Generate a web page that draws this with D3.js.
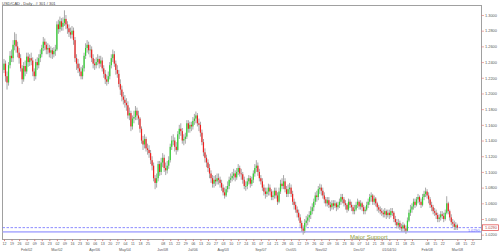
<!DOCTYPE html>
<html><head><meta charset="utf-8">
<script src="https://cdn.jsdelivr.net/npm/d3@7"></script>
<style>html,body{margin:0;padding:0;background:#fff;}svg{display:block;font-family:"Liberation Sans",Arial,sans-serif;}</style>
</head><body><svg id="c" width="500" height="252"></svg>
<script>
const title = "USD/CAD , Daily , # 301 / 301";
const firstOpen = 1.230;
const close = [
1.238,1.222,1.214,1.236,1.248, 1.245,1.262,1.268,1.260,1.252,
1.245,1.232,1.218,1.235,1.228, 1.247,1.240,1.245,1.242,1.228,
1.222,1.240,1.236,1.245,1.250, 1.258,1.266,1.262,1.256,1.258,
1.252,1.255,1.250,1.254,1.256, 1.288,1.282,1.292,1.285,1.290,
1.295,1.288,1.283,1.278,1.275, 1.280,1.268,1.245,1.238,1.232,
1.228,1.222,1.232,1.248,1.258, 1.262,1.255,1.256,1.245,1.238,
1.236,1.240,1.244,1.238,1.242, 1.232,1.225,1.218,1.215,1.222,
1.236,1.245,1.250,1.238,1.230, 1.225,1.212,1.205,1.196,1.192,
1.188,1.185,1.172,1.175,1.158, 1.168,1.170,1.178,1.172,1.168,
1.155,1.140,1.135,1.142,1.130, 1.128,1.124,1.115,1.108,1.092,
1.086,1.092,1.110,1.100,1.112, 1.118,1.105,1.102,1.108,1.115,
1.132,1.140,1.140,1.132,1.128, 1.148,1.155,1.152,1.140,1.142,
1.145,1.162,1.155,1.160,1.158, 1.165,1.168,1.172,1.162,1.160,
1.150,1.138,1.125,1.118,1.112, 1.105,1.098,1.092,1.085,1.090,
1.088,1.092,1.090,1.086,1.080, 1.074,1.070,1.078,1.082,1.090,
1.092,1.095,1.098,1.093,1.100, 1.105,1.098,1.097,1.090,1.082,
1.082,1.088,1.092,1.085,1.090, 1.098,1.105,1.108,1.100,1.092,
1.088,1.080,1.075,1.072,1.075, 1.080,1.075,1.068,1.070,1.076,
1.070,1.062,1.075,1.085,1.082, 1.088,1.078,1.072,1.078,1.080,
1.072,1.062,1.058,1.052,1.048, 1.042,1.035,1.028,1.025,1.035,
1.038,1.042,1.045,1.050,1.055, 1.062,1.070,1.068,1.078,1.080,
1.076,1.070,1.065,1.060,1.064, 1.058,1.055,1.060,1.057,1.060,
1.055,1.058,1.062,1.068,1.065, 1.060,1.058,1.052,1.062,1.058,
1.055,1.050,1.052,1.058,1.062, 1.056,1.060,1.055,1.050,1.052,
1.058,1.062,1.068,1.070,1.062, 1.066,1.060,1.055,1.052,1.050,
1.048,1.046,1.050,1.045,1.048, 1.045,1.050,1.048,1.040,1.036,
1.032,1.035,1.030,1.028,1.032, 1.028,1.025,1.038,1.048,1.052,
1.056,1.062,1.058,1.065,1.068, 1.062,1.058,1.068,1.072,1.075,
1.070,1.065,1.058,1.055,1.050, 1.048,1.045,1.040,1.042,1.046,
1.044,1.040,1.048,1.060,1.050, 1.042,1.036,1.034,1.030,1.032,
1.029];
const high = [
1.244,1.242,1.228,1.240,1.254, 1.256,1.268,1.278,1.276,1.266,
1.258,1.250,1.236,1.240,1.242, 1.252,1.252,1.250,1.252,1.246,
1.232,1.244,1.246,1.250,1.256, 1.262,1.272,1.270,1.266,1.264,
1.262,1.260,1.258,1.259,1.262, 1.292,1.294,1.298,1.296,1.297,
1.306,1.300,1.292,1.288,1.284, 1.286,1.284,1.272,1.250,1.244,
1.238,1.234,1.236,1.252,1.264, 1.268,1.266,1.262,1.260,1.250,
1.244,1.246,1.250,1.248,1.248, 1.246,1.236,1.230,1.224,1.228,
1.240,1.250,1.256,1.254,1.242, 1.236,1.230,1.218,1.210,1.202,
1.198,1.194,1.190,1.182,1.178, 1.172,1.178,1.184,1.182,1.178,
1.170,1.158,1.146,1.148,1.145, 1.136,1.134,1.128,1.120,1.112,
1.096,1.098,1.114,1.114,1.118, 1.124,1.122,1.112,1.114,1.120,
1.136,1.146,1.148,1.144,1.138, 1.152,1.160,1.162,1.156,1.148,
1.150,1.166,1.166,1.164,1.164, 1.170,1.174,1.177,1.175,1.168,
1.164,1.154,1.142,1.130,1.122, 1.116,1.110,1.102,1.096,1.095,
1.096,1.098,1.098,1.094,1.090, 1.084,1.080,1.082,1.088,1.094,
1.098,1.100,1.104,1.102,1.105, 1.110,1.108,1.104,1.100,1.094,
1.088,1.092,1.096,1.095,1.094, 1.102,1.110,1.115,1.112,1.104,
1.096,1.092,1.084,1.080,1.080, 1.085,1.084,1.078,1.076,1.080,
1.080,1.074,1.080,1.090,1.092, 1.096,1.092,1.082,1.084,1.086,
1.084,1.076,1.066,1.062,1.056, 1.052,1.046,1.038,1.032,1.040,
1.044,1.046,1.050,1.056,1.060, 1.066,1.074,1.076,1.082,1.085,
1.084,1.080,1.074,1.068,1.068, 1.068,1.062,1.064,1.064,1.064,
1.062,1.062,1.066,1.072,1.072, 1.068,1.064,1.060,1.066,1.065,
1.062,1.058,1.058,1.062,1.066, 1.064,1.064,1.062,1.058,1.056,
1.062,1.066,1.072,1.074,1.072, 1.070,1.068,1.062,1.058,1.056,
1.054,1.052,1.054,1.052,1.052, 1.052,1.054,1.054,1.050,1.044,
1.040,1.040,1.038,1.034,1.036, 1.034,1.032,1.042,1.052,1.058,
1.060,1.066,1.066,1.068,1.072, 1.070,1.066,1.072,1.076,1.080,
1.078,1.074,1.068,1.062,1.058, 1.054,1.052,1.048,1.046,1.050,
1.050,1.048,1.052,1.069,1.062, 1.052,1.046,1.040,1.038,1.036,
1.034];
const low = [
1.226,1.215,1.205,1.210,1.232, 1.240,1.240,1.255,1.252,1.246,
1.238,1.228,1.212,1.215,1.222, 1.225,1.234,1.235,1.236,1.222,
1.216,1.218,1.230,1.232,1.240, 1.246,1.254,1.255,1.250,1.250,
1.246,1.245,1.244,1.246,1.248, 1.254,1.276,1.278,1.280,1.280,
1.286,1.282,1.276,1.272,1.270, 1.270,1.262,1.240,1.230,1.226,
1.222,1.218,1.218,1.228,1.244, 1.252,1.250,1.246,1.240,1.232,
1.230,1.232,1.236,1.232,1.234, 1.228,1.220,1.212,1.210,1.212,
1.218,1.232,1.240,1.234,1.224, 1.220,1.208,1.198,1.190,1.186,
1.182,1.178,1.168,1.166,1.152, 1.154,1.162,1.166,1.166,1.160,
1.150,1.136,1.128,1.130,1.126, 1.122,1.118,1.110,1.102,1.088,
1.078,1.080,1.088,1.095,1.096, 1.106,1.100,1.096,1.098,1.104,
1.112,1.128,1.134,1.126,1.122, 1.126,1.142,1.146,1.136,1.134,
1.136,1.142,1.150,1.150,1.152, 1.154,1.160,1.162,1.158,1.152,
1.145,1.134,1.120,1.112,1.106, 1.100,1.092,1.086,1.080,1.080,
1.082,1.084,1.084,1.080,1.076, 1.070,1.066,1.068,1.074,1.078,
1.086,1.088,1.090,1.088,1.090, 1.096,1.094,1.090,1.085,1.078,
1.076,1.078,1.084,1.080,1.082, 1.086,1.094,1.100,1.095,1.088,
1.084,1.076,1.070,1.066,1.068, 1.070,1.070,1.064,1.064,1.066,
1.066,1.058,1.060,1.072,1.078, 1.078,1.074,1.068,1.068,1.072,
1.068,1.058,1.052,1.048,1.042, 1.038,1.030,1.024,1.020,1.022,
1.030,1.032,1.036,1.040,1.046, 1.050,1.058,1.062,1.064,1.072,
1.070,1.066,1.060,1.056,1.056, 1.054,1.050,1.052,1.052,1.054,
1.050,1.052,1.054,1.058,1.060, 1.056,1.052,1.048,1.050,1.054,
1.050,1.046,1.046,1.050,1.054, 1.052,1.052,1.050,1.046,1.046,
1.050,1.054,1.058,1.062,1.058, 1.058,1.056,1.050,1.048,1.046,
1.044,1.042,1.042,1.040,1.042, 1.040,1.042,1.044,1.036,1.032,
1.028,1.028,1.026,1.024,1.024, 1.024,1.021,1.024,1.036,1.044,
1.048,1.052,1.054,1.056,1.060, 1.058,1.054,1.056,1.064,1.068,
1.066,1.060,1.054,1.050,1.046, 1.044,1.040,1.036,1.036,1.038,
1.040,1.036,1.038,1.046,1.046, 1.038,1.032,1.030,1.026,1.026,
1.026];
const yTicks = [1.30,1.28,1.26,1.24,1.22,1.20,1.18,1.16,1.14,1.12,1.10,1.08,1.06,1.04,1.02];
const weekLabels = ["12","19","26","02","09","16","23","02","09","16","23","30","06","13","20","27","04","11","18","25","",
  "08","15","22","29","06","13","20","27","03","10","17","24","31","07","14","21","28","05","12","19","26",
  "02","09","16","23","30","07","14","21","28","04","11","18","25","","08","15","22","","08","15","22"];
const monthWeeks = [3,7,12,16,21,25,29,34,38,42,47,51,56,60];
const monthNames = ["Feb/02","Mar/02","Apr/06","May/04","Jun/08","Jul/06","Aug/03","Sep/07","Oct/05","Nov/02","Dec/07","01/04/10","Feb/08","Mar/08"];
const currentPrice = 1.0290;
const supportLevel = 1.0235;
const supportText = "Major Support";

const svg = d3.select("#c");
const P = {l:2.5, r:481.5, t:5.5, b:239.5};
const x = d3.scaleLinear().domain([0,300]).range([4,457.3]);
const y = d3.scaleLinear().domain([1.02,1.30]).range([234.7,15]);

svg.append("rect").attr("x",P.l).attr("y",P.t).attr("width",P.r-P.l).attr("height",P.b-P.t)
  .attr("fill","#fff").attr("stroke","#a0a0a0").attr("stroke-width",1);

svg.append("text").attr("x",2).attr("y",4.6).attr("font-size",4).attr("fill","#444").text(title);

svg.append("defs").append("clipPath").attr("id","clp").append("rect")
  .attr("x",P.l).attr("y",P.t).attr("width",P.r-P.l).attr("height",P.b-P.t);
const g = svg.append("g").attr("clip-path","url(#clp)");

// horizontal lines
g.append("line").attr("x1",P.l).attr("x2",P.r).attr("y1",y(supportLevel)).attr("y2",y(supportLevel))
  .attr("stroke","#b4b4ff").attr("stroke-width",1.8);
g.append("line").attr("x1",P.l).attr("x2",P.r).attr("y1",y(currentPrice)).attr("y2",y(currentPrice))
  .attr("stroke","#7070ff").attr("stroke-width",0.8).attr("stroke-dasharray","2.5,1.5");

const bars = close.map((c,i)=>({i, o: i ? close[i-1] : firstOpen, h: high[i], l: low[i], c}));
g.selectAll("rect.w").data(bars).join("rect").attr("class","w")
  .attr("x",d=>x(d.i)-0.5).attr("width",1)
  .attr("y",d=>y(d.h)).attr("height",d=>y(d.l)-y(d.h)).attr("fill","#a8a8a8");
g.selectAll("rect.b").data(bars).join("rect").attr("class","b")
  .attr("x",d=>x(d.i)-0.6).attr("width",1.2)
  .attr("y",d=>y(Math.max(d.o,d.c)))
  .attr("height",d=>Math.max(0.7, Math.abs(y(d.o)-y(d.c))))
  .attr("fill",d=>d.c>=d.o ? "#2fd42f" : "#ee2020");

g.append("text").attr("x",350).attr("y",238.6).attr("font-size",6).attr("fill","#8c9a40").text(supportText);
g.append("text").attr("x",479.5).attr("y",y(currentPrice)+4.2).attr("text-anchor","end")
  .attr("font-size",3.8).attr("fill","#6a6aff").text(currentPrice.toFixed(4));

// right axis
const ya = svg.append("g").attr("transform",`translate(${P.r},0)`)
  .call(d3.axisRight(y).tickValues(yTicks).tickSize(2.5).tickPadding(1).tickFormat(d=>d.toFixed(4)));
ya.select(".domain").remove();
ya.selectAll("line").attr("stroke","#e07070").attr("stroke-width",0.6);
ya.selectAll("text").attr("font-size",3.9).attr("fill","#555").attr("font-family","Liberation Sans, Arial, sans-serif");

// current price box
svg.append("rect").attr("x",482.5).attr("y",y(currentPrice)-2.8).attr("width",16).attr("height",5.6)
  .attr("fill","#fff").attr("stroke","#e04040").attr("stroke-width",0.7);
svg.append("text").attr("x",485).attr("y",y(currentPrice)+1.3).attr("font-size",3.9).attr("fill","#b04848").text(currentPrice.toFixed(4));

// bottom axis
const wk = weekLabels.map((t,w)=>({t,w})).filter(d=>d.t!=="");
const xa = svg.append("g").attr("transform",`translate(0,${P.b})`)
  .call(d3.axisBottom(x).tickValues(wk.map(d=>d.w*5)).tickSize(1.6).tickPadding(1.4)
    .tickFormat(v=>weekLabels[v/5]));
xa.select(".domain").remove();
xa.selectAll("line").attr("stroke","#e06060").attr("stroke-width",0.8);
xa.selectAll("text").attr("font-size",3.6).attr("fill","#555").attr("font-family","Liberation Sans, Arial, sans-serif");

svg.append("g").selectAll("text").data(monthWeeks).join("text")
  .attr("x",w=>x(w*5)).attr("y",250.8).attr("text-anchor","middle")
  .attr("font-size",3.6).attr("fill","#555").text((w,i)=>monthNames[i]);
</script></body></html>
